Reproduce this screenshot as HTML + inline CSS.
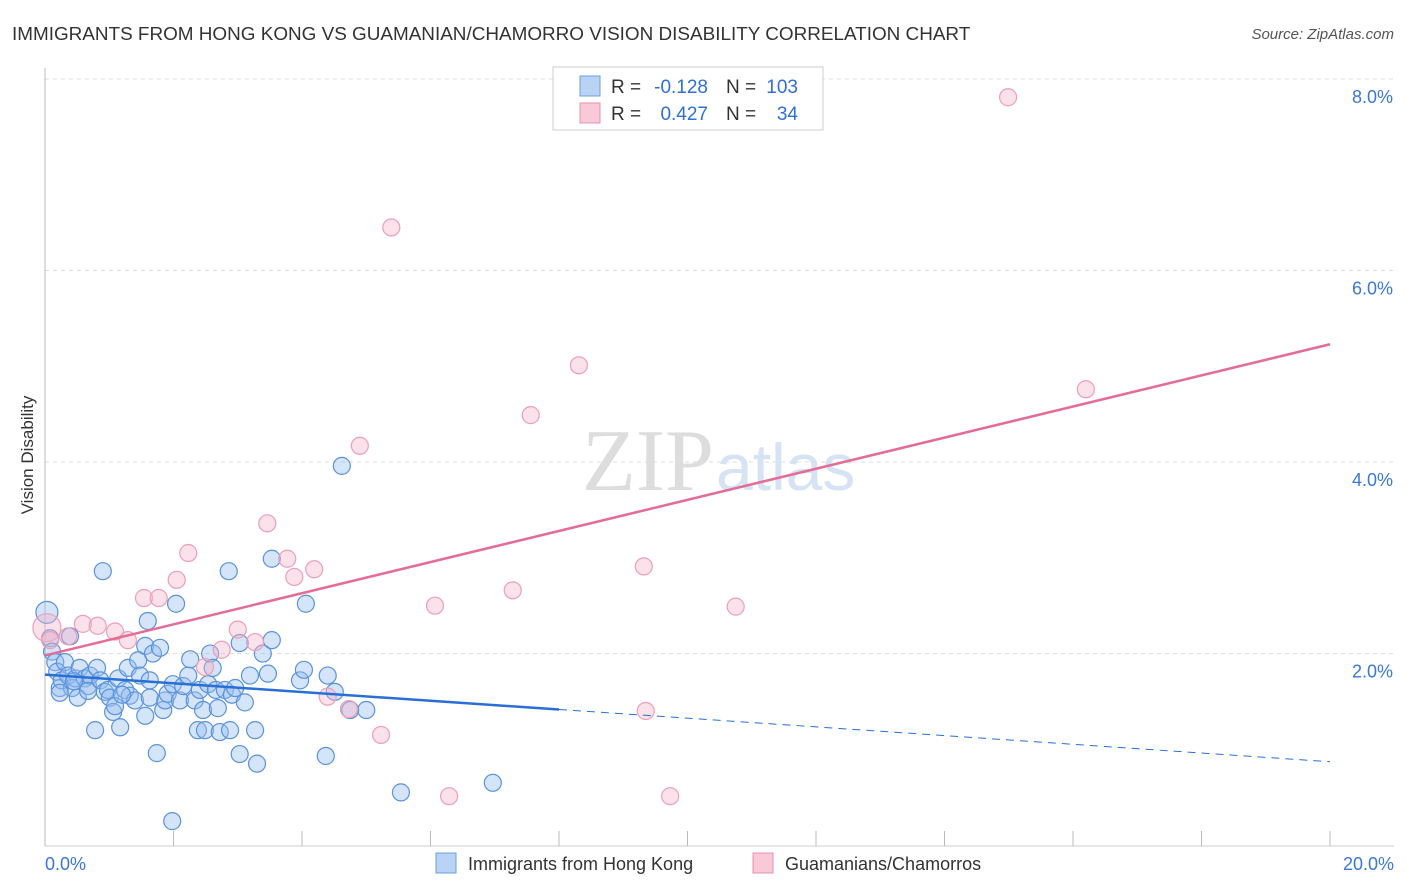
<!DOCTYPE html>
<html><head><meta charset="utf-8"><style>
body{margin:0;background:#fff;font-family:"Liberation Sans",sans-serif;}
svg{display:block}
</style></head><body>
<svg id="chart" width="1406" height="892">
<text x="12" y="40" font-size="18.9" fill="#333">IMMIGRANTS FROM HONG KONG VS GUAMANIAN/CHAMORRO VISION DISABILITY CORRELATION CHART</text>
<text x="1394" y="39" font-size="15" fill="#555" font-style="italic" text-anchor="end">Source: ZipAtlas.com</text>
<text x="33" y="455" font-size="17" fill="#333" transform="rotate(-90 33 455)" text-anchor="middle">Vision Disability</text>
<g id="grid"></g>
<text x="714" y="490" font-size="88" fill="#ddd" text-anchor="end" font-family="Liberation Serif">ZIP</text>
<text x="716" y="490" font-size="66" fill="#d5e3f5">atlas</text>
<g id="marks"></g>
<g id="lines"></g>
<g>
<rect x="553" y="67" width="270" height="63" fill="#fff" stroke="#ccc"/>
<rect x="580" y="76" width="20" height="20" fill="#b9d3f5" stroke="#6a9fe0"/>
<rect x="580" y="103" width="20" height="20" fill="#f9c9d8" stroke="#e890ac"/>
<text x="611" y="93" font-size="19" fill="#333">R =</text>
<text x="708" y="93" font-size="19" fill="#2f6fd8" text-anchor="end">-0.128</text>
<text x="726" y="93" font-size="19" fill="#333">N =</text>
<text x="798" y="93" font-size="19" fill="#2f6fd8" text-anchor="end">103</text>
<text x="611" y="120" font-size="19" fill="#333">R =</text>
<text x="708" y="120" font-size="19" fill="#2f6fd8" text-anchor="end">0.427</text>
<text x="726" y="120" font-size="19" fill="#333">N =</text>
<text x="798" y="120" font-size="19" fill="#2f6fd8" text-anchor="end">34</text>
</g>
<g>
<rect x="436" y="853" width="20" height="20" fill="#b9d3f5" stroke="#6a9fe0"/>
<text x="468" y="870" font-size="18" fill="#333">Immigrants from Hong Kong</text>
<rect x="753" y="853" width="20" height="20" fill="#f9c9d8" stroke="#e890ac"/>
<text x="785" y="870" font-size="18" fill="#333">Guamanians/Chamorros</text>
</g>
</svg>
<script>
const xTicks=[0,2,4,6,8,10,12,14,16,18,20];
const yTicks=[2,4,6,8];
const yTickLabels=["2.0%","4.0%","6.0%","8.0%"];
const xEndLabels=["0.0%","20.0%"];
const blueX=[0.03,0.08,0.11,0.16,0.19,0.23,0.26,0.31,0.36,0.39,0.42,0.47,0.51,0.54,0.62,0.67,0.70,0.78,0.81,0.86,0.90,0.93,0.98,1.01,1.06,1.09,1.14,1.17,1.25,1.29,1.32,1.40,1.45,1.48,1.56,1.56,1.60,1.63,1.68,1.74,1.79,1.84,1.87,1.91,1.98,1.99,2.04,2.10,2.15,2.23,2.26,2.33,2.38,2.41,2.46,2.49,2.54,2.57,2.61,2.66,2.69,2.72,2.80,2.86,2.88,2.91,2.96,3.03,3.03,3.11,3.19,3.27,3.30,3.39,3.47,3.53,3.53,3.97,4.03,4.06,4.37,4.40,4.51,4.62,4.75,5.00,5.54,6.97,0.23,0.67,1.63,0.45,1.20];
const blueY=[2.44,2.17,2.03,1.92,1.82,1.65,1.73,1.92,1.78,2.19,1.65,1.75,1.55,1.86,1.75,1.67,1.78,1.21,1.86,1.73,2.87,1.61,1.63,1.55,1.40,1.46,1.75,1.24,1.63,1.86,1.57,1.52,1.94,1.78,1.36,2.09,2.35,1.73,2.01,0.97,2.07,1.42,1.52,1.59,0.26,1.69,2.53,1.52,1.67,1.78,1.95,1.52,1.21,1.63,1.42,1.21,1.69,2.01,1.86,1.63,1.44,1.19,1.63,2.87,1.21,1.58,1.65,2.12,0.96,1.50,1.78,1.21,0.86,2.01,1.80,2.15,3.00,1.73,1.84,2.53,0.94,1.78,1.61,3.97,1.42,1.42,0.56,0.66,1.60,1.62,1.55,1.72,1.58];
const pinkX=[0.03,0.08,0.36,0.59,0.82,1.09,1.29,1.54,1.77,2.05,2.23,2.49,2.75,3.00,3.27,3.46,3.77,3.88,4.19,4.40,4.73,4.90,5.23,5.39,6.07,6.29,7.28,7.56,8.31,9.32,9.35,9.73,10.75,14.99,16.20];
const pinkY=[2.28,2.15,2.19,2.32,2.30,2.24,2.15,2.59,2.59,2.78,3.06,1.87,2.05,2.26,2.13,3.37,3.00,2.81,2.89,1.56,1.43,4.18,1.16,6.46,2.51,0.52,2.67,4.50,5.02,2.92,1.41,0.52,2.50,7.82,4.77];
const blueTrend=[1.79,0.88];
const pinkTrend=[1.99,5.24];
const X=v=>45+v/20*1285, Y=v=>846-v*95.75;
const NS="http://www.w3.org/2000/svg";
function mk(t,a,p){const e=document.createElementNS(NS,t);for(const k in a)e.setAttribute(k,a[k]);p.appendChild(e);return e;}
const grid=document.getElementById('grid'),marks=document.getElementById('marks'),lines=document.getElementById('lines');
yTicks.forEach((v,i)=>{
 const l=mk('line',{x1:45,x2:1394,y1:Y(v)-1,y2:Y(v)-1,stroke:'#ddd','stroke-dasharray':'4,4'},grid);
 
 
 const t=mk('text',{x:1393,y:Y(v)+23,'font-size':18,fill:'#3a78d8','text-anchor':'end'},grid);t.textContent=yTickLabels[i];
 
 
});
const ax=mk('line',{x1:45,x2:45,y1:68,y2:846,stroke:'#bbb'},grid);


const bx=mk('line',{x1:45,x2:1394,y1:846,y2:846,stroke:'#ccc'},grid);


xTicks.forEach(v=>{const t=mk('line',{x1:X(v),x2:X(v),y1:831,y2:846,stroke:'#bbb'},grid);
 
 });
[[0,'start',45],[20,'end',1394]].forEach((d,i)=>{const t=mk('text',{x:d[2],y:870,'font-size':18,fill:'#3a78d8','text-anchor':d[1]},grid);t.textContent=xEndLabels[i];
 
 });
blueX.forEach((x,i)=>{const c=mk('circle',{cx:X(x),cy:Y(blueY[i]),r:i==0?11:8.5,fill:'rgba(150,190,240,0.4)',stroke:'#5a92dc','stroke-width':1.2},marks);
 
 });
pinkX.forEach((x,i)=>{const c=mk('circle',{cx:X(x),cy:Y(pinkY[i]),r:i==0?14:8.5,fill:'rgba(245,180,200,0.4)',stroke:'#eaa0b8','stroke-width':1.2},marks);
 
 });
const bmid=blueTrend[0]+(blueTrend[1]-blueTrend[0])*8/20;
let l=mk('line',{x1:X(0),y1:Y(blueTrend[0]),x2:X(8),y2:Y(bmid),stroke:'#2a6fd6','stroke-width':2.5},lines);


l=mk('line',{x1:X(8),y1:Y(bmid),x2:X(20),y2:Y(blueTrend[1]),stroke:'#2a6fd6','stroke-width':1,'stroke-dasharray':'8,6'},lines);


l=mk('line',{x1:X(0),y1:Y(pinkTrend[0]),x2:X(20),y2:Y(pinkTrend[1]),stroke:'#e46c96','stroke-width':2.5},lines);


</script>
</body></html>
